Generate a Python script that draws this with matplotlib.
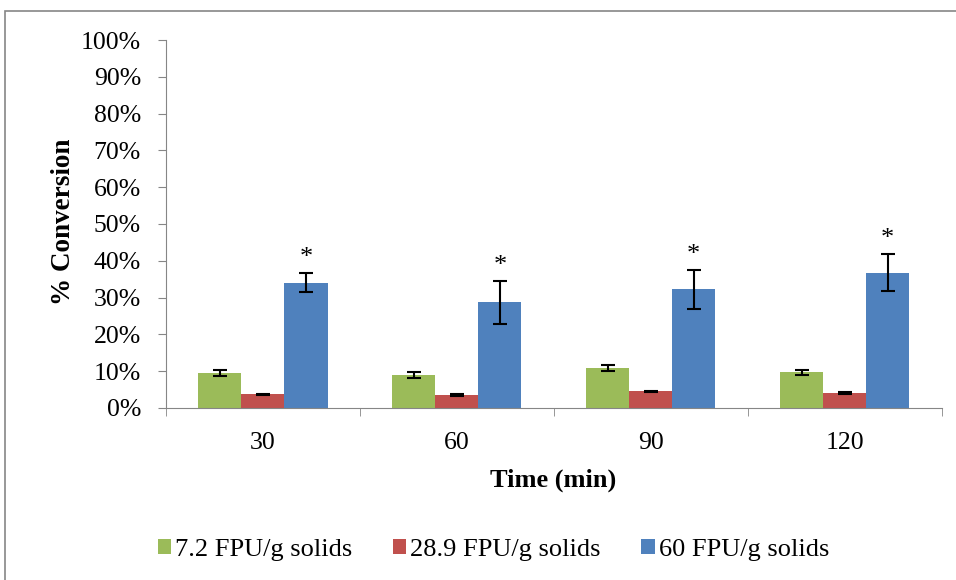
import numpy as np
import matplotlib.pyplot as plt
from matplotlib.patches import Rectangle
from matplotlib.ticker import PercentFormatter

plt.rcParams['font.family'] = ['Liberation Serif', 'DejaVu Serif']

# data (% conversion)
times = ['30', '60', '90', '120']
labels = ['7.2 FPU/g solids', '28.9 FPU/g solids', '60 FPU/g solids']
low = [9.5, 9.0, 10.8, 9.7]
mid = [3.7, 3.5, 4.5, 4.0]
high = [34.1, 28.7, 32.2, 36.8]
low_err = [0.8, 0.8, 0.8, 0.7]
mid_err = [0.2, 0.2, 0.2, 0.3]
high_err = [2.7, 5.8, 5.3, 5.0]

colors = ['#9BBB59', '#C0504D', '#4F81BD']

fig = plt.figure(figsize=(9.56, 5.80), dpi=100)
ax = fig.add_axes([0.1736, 0.2966, 0.8114, 0.6344])

# outer chart frame (right/bottom edges run off the picture)
fig.patches.append(Rectangle((5/956, -0.1), 2, 1 - 11/580 + 0.1, transform=fig.transFigure,
                             fill=False, edgecolor='#868686', linewidth=1.2))

x = np.arange(len(times))
w = 0.222
series = [(low, low_err), (mid, mid_err), (high, high_err)]
for i, (vals, errs) in enumerate(series):
    ax.bar(x + (i - 1) * w, vals, w, color=colors[i], label=labels[i],
           yerr=errs, error_kw=dict(ecolor='black', elinewidth=1.5, capsize=5, capthick=1.5))

# significance stars over the 60 FPU bars
for xi, v, e in zip(x, high, high_err):
    ax.text(xi + w, v + e + 1.0, '*', ha='center', va='bottom', fontsize=19)

ax.set_xlim(-0.5, len(times) - 0.5)
ax.set_ylim(0, 100)
ax.set_yticks(np.arange(0, 101, 10))
ax.yaxis.set_major_formatter(PercentFormatter(decimals=0))
ax.set_xticks(x)
ax.set_xticklabels(times)
ax.set_xticks(np.arange(-0.5, len(times)), minor=True)

for s in ['top', 'right']:
    ax.spines[s].set_visible(False)
for s in ['left', 'bottom']:
    ax.spines[s].set_color('#868686')
ax.tick_params(axis='y', colors='#868686', labelcolor='black', labelsize=18.5, length=6, pad=12)
ax.tick_params(axis='x', which='major', length=0, labelsize=18.5, pad=17)
ax.tick_params(axis='x', which='minor', colors='#868686', length=6)

ax.set_ylabel('% Conversion', fontsize=19.5, fontweight='bold')
ax.yaxis.set_label_coords(-0.116, 0.505)
ax.set_xlabel('Time (min)', fontsize=19, fontweight='bold')
ax.xaxis.set_label_coords(0.499, -0.166)

fig.legend(loc='center', bbox_to_anchor=(0.516, 0.052), ncol=3, frameon=False,
           fontsize=19, handlelength=0.5, handleheight=0.5, handletextpad=0.15,
           columnspacing=1.55)

fig.savefig('out.png', dpi=100)
